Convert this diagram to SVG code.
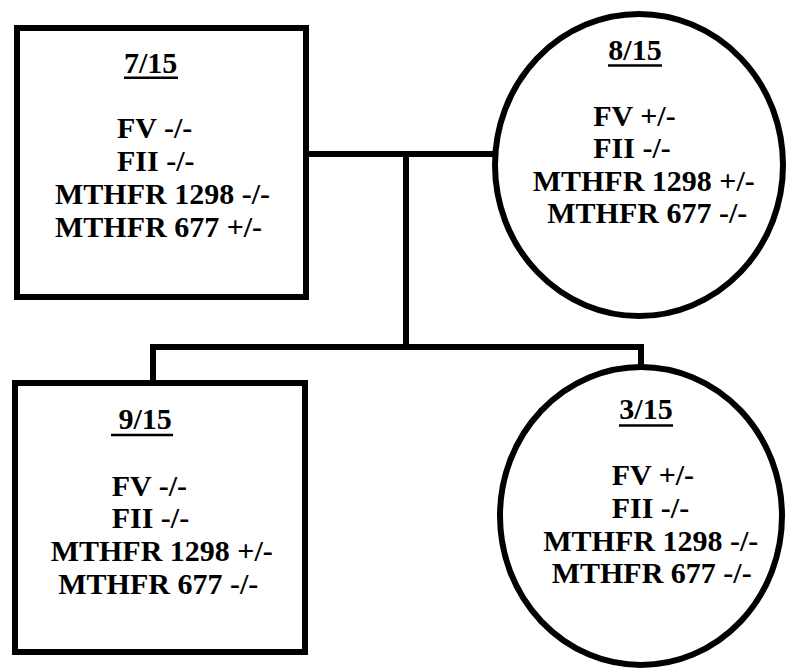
<svg xmlns="http://www.w3.org/2000/svg" width="786" height="668" viewBox="0 0 786 668">
  <style>
    .shape { fill: #ffffff; stroke: #000000; stroke-width: 6; }
    .link { fill: none; stroke: #000000; stroke-width: 6; stroke-linejoin: miter; stroke-linecap: square; }
    text { font-family: 'Liberation Serif', 'Times New Roman', Times, serif; font-weight: 700; font-size: 30px; fill: #000000; }
    .ul { stroke: #000000; stroke-width: 2.5; }
  </style>
  <rect width="786" height="668" fill="#ffffff"/>

  <!-- family connectors -->
  <g id="connectors">
    <path class="link" d="M309 154 H492"/>
    <path class="link" d="M406 154 V347"/>
    <path class="link" d="M153 380 V347 H641 V366"/>
  </g>

  <!-- father -->
  <g id="node-7-15" font-family="Liberation Serif, serif">
    <rect class="shape" x="17" y="28" width="289" height="269"/>
    <text x="124" y="72.7">7/15</text>
    <line class="ul" x1="124" y1="77.7" x2="178" y2="77.7"/>
    <text x="117" y="137.7">FV -/-</text>
    <text x="117" y="171">FII -/-</text>
    <text x="55" y="204">MTHFR 1298 -/-</text>
    <text x="55" y="237">MTHFR 677 +/-</text>
  </g>

  <!-- mother -->
  <g id="node-8-15" font-family="Liberation Serif, serif">
    <ellipse class="shape" cx="639" cy="165" rx="144" ry="151"/>
    <text x="608.3" y="60">8/15</text>
    <line class="ul" x1="608" y1="65.5" x2="662" y2="65.5"/>
    <text x="593.3" y="125.7">FV +/-</text>
    <text x="593.3" y="157.5">FII -/-</text>
    <text x="532.7" y="190.7">MTHFR 1298 +/-</text>
    <text x="547.3" y="223.3">MTHFR 677 -/-</text>
  </g>

  <!-- son -->
  <g id="node-9-15" font-family="Liberation Serif, serif">
    <rect class="shape" x="15" y="383" width="290" height="269"/>
    <text x="111" y="429.3" xml:space="preserve"> 9/15</text>
    <line class="ul" x1="111" y1="435" x2="173" y2="435"/>
    <text x="111.7" y="495.7">FV -/-</text>
    <text x="111.7" y="528.3">FII -/-</text>
    <text x="50.7" y="560.7">MTHFR 1298 +/-</text>
    <text x="58.3" y="594">MTHFR 677 -/-</text>
  </g>

  <!-- daughter -->
  <g id="node-3-15" font-family="Liberation Serif, serif">
    <ellipse class="shape" cx="641" cy="516" rx="141" ry="149"/>
    <text x="619.3" y="419.3">3/15</text>
    <line class="ul" x1="619" y1="425.5" x2="673" y2="425.5"/>
    <text x="611.7" y="485">FV +/-</text>
    <text x="611.7" y="518.3">FII -/-</text>
    <text x="543.3" y="550.7">MTHFR 1298 -/-</text>
    <text x="551.7" y="583.3">MTHFR 677 -/-</text>
  </g>
</svg>
